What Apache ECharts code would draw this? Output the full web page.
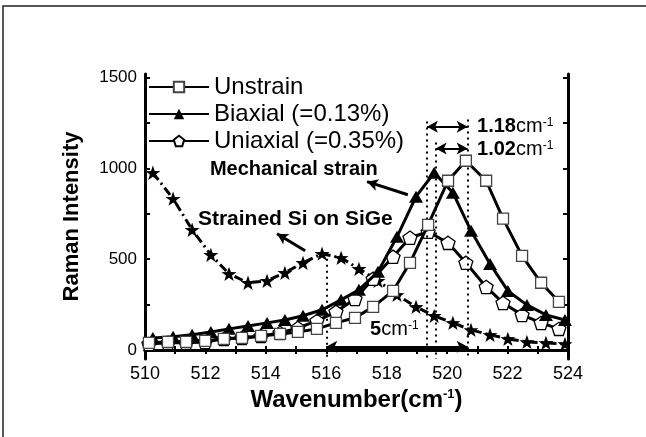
<!DOCTYPE html>
<html>
<head>
<meta charset="utf-8">
<script src="https://cdn.jsdelivr.net/npm/echarts@6/dist/echarts.min.js"></script>
<style>
  html, body { margin: 0; padding: 0; background: #fff; }
  #chart { width: 646px; height: 437px; }
</style>
</head>
<body>
<div id="chart"></div>
<script>
// Raman spectra of Si around the 520 cm^-1 optical phonon line
const wavenumberA = [510.13, 510.76, 511.36, 511.99, 512.61, 513.21, 513.84, 514.47, 515.06, 515.69, 516.32, 516.95,
                     517.55, 518.21, 518.77, 519.37, 520.03, 520.62, 521.29, 521.85, 522.48, 523.11, 523.70];
const wavenumberB = [510.26, 510.93, 511.56, 512.18, 512.78, 513.41, 514.04, 514.63, 515.23, 515.86, 516.49, 517.08,
                     517.71, 518.34, 518.97, 519.57, 520.19, 520.79, 521.42, 522.01, 522.64, 523.27, 523.90];

const unstrain = [39, 44, 44, 50, 61, 66, 77, 88, 99, 116, 149, 177, 237, 325, 480, 689, 932, 1042, 932, 723, 518, 370, 265];
const uniaxial = [33, 39, 39, 44, 61, 66, 77, 94, 121, 160, 210, 281, 392, 513, 618, 651, 590, 480, 347, 259, 193, 149, 116];
const biaxial  = [66, 72, 83, 99, 116, 132, 149, 165, 188, 221, 276, 331, 430, 623, 844, 976, 866, 656, 474, 325, 248, 193, 165];
const siOnSiGe = [976, 833, 662, 524, 419, 370, 381, 425, 480, 530, 507, 447, 381, 303, 237, 188, 149, 110, 83, 61, 44, 39, 33];

const seriesNames = ['Unstrain', 'Biaxial (=0.13%)', 'Uniaxial (=0.35%)'];

const xLabelTicks = [510, 512, 514, 516, 518, 520, 522, 524];
const xMinorTicks = [510, 511, 512, 513, 514, 515, 516, 517, 518, 519, 520, 521, 522, 523, 524];
const yLabelTicks = [0, 500, 1000, 1500];
const yMinorTicks = [0, 250, 500, 750, 1000, 1250, 1500];

// peak positions marked by the dotted guides
const peakUnstrain = 520.68;
const peakBiaxial = 519.62;
const peakUniaxial = 519.33;
const peakSiGe = 516.0;

const FONT = '"Liberation Sans", Arial, Helvetica, sans-serif';
const INK = '#000';

const STAR = 'path://M0,-10 L2.35,-3.24 L9.51,-3.09 L3.8,1.24 L5.88,8.09 L0,4 L-5.88,8.09 L-3.8,1.24 L-9.51,-3.09 L-2.35,-3.24 Z';
const PENTAGON = 'path://M0,-10 L9.51,-3.09 L5.88,8.09 L-5.88,8.09 L-9.51,-3.09 Z';

const zip = (xs, ys) => xs.map((x, i) => [x, ys[i]]);

const dotted = { type: [2, 4], width: 2, color: INK };
const arrowLine = { type: 'solid', width: 2, color: INK };

function vline(x, yTop) {
  return [{ coord: [x, yTop], symbol: 'none', lineStyle: dotted }, { coord: [x, -50], symbol: 'none' }];
}
function arrow(x1, y1, x2, y2, headStart, headEnd, width) {
  return [
    { coord: [x1, y1], symbol: headStart ? 'arrow' : 'none', lineStyle: Object.assign({}, arrowLine, { width: width || 2 }) },
    { coord: [x2, y2], symbol: headEnd ? 'arrow' : 'none' }
  ];
}

const guides = [
  vline(peakSiGe, 535),
  vline(peakUniaxial, 1258),
  vline(peakBiaxial, 1142),
  vline(peakUnstrain, 1269),
  arrow(peakSiGe, 17, peakUnstrain, 17, true, true, 3),
  arrow(peakUniaxial, 1230, peakUnstrain, 1230, true, true, 2),
  arrow(peakBiaxial, 1109, peakUnstrain, 1109, true, true, 2),
  arrow(517.35, 927, 518.70, 855, true, false, 3),
  arrow(514.37, 640, 515.30, 546, true, false, 3)
];

const axisLineStyle = { lineStyle: { color: INK, width: 3 } };
const plainNumber = v => String(v);

const option = {
  backgroundColor: '#fff',
  animation: false,
  textStyle: { fontFamily: FONT, color: INK },
  grid: { left: 145, right: 78, top: 74, bottom: 78, containLabel: false },
  legend: {
    data: seriesNames,
    orient: 'vertical',
    left: 148,
    top: 75,
    padding: 0,
    itemWidth: 60,
    itemHeight: 13,
    itemGap: 3,
    textStyle: { fontFamily: FONT, fontSize: 24, color: INK },
    selectedMode: false
  },
  xAxis: [
    {
      type: 'value', min: 510, max: 524, position: 'bottom',
      name: 'Wavenumber(cm{s|-1})',
      nameLocation: 'middle', nameGap: 25,
      nameTextStyle: {
        fontFamily: FONT, fontSize: 24, fontWeight: 'bold', color: INK, verticalAlign: 'top',
        rich: { s: { fontFamily: FONT, fontSize: 13, fontWeight: 'bold', verticalAlign: 'top', color: INK } }
      },
      axisLine: axisLineStyle,
      axisTick: { inside: true, length: 4, lineStyle: { width: 2, color: INK }, customValues: xMinorTicks },
      axisLabel: { customValues: xLabelTicks, formatter: plainNumber, fontFamily: FONT, fontSize: 18, color: INK, margin: 6 },
      splitLine: { show: false }
    },
    {
      type: 'value', min: 510, max: 524, position: 'top',
      axisLine: axisLineStyle,
      axisTick: { inside: true, length: 4, lineStyle: { width: 2, color: INK }, customValues: xMinorTicks },
      axisLabel: { show: false },
      splitLine: { show: false }
    }
  ],
  yAxis: [
    {
      type: 'value', min: -50, max: 1520, position: 'left',
      name: 'Raman Intensity',
      nameLocation: 'middle', nameGap: 62, nameRotate: 90,
      nameTextStyle: { fontFamily: FONT, fontSize: 22, fontWeight: 'bold', color: INK },
      axisLine: axisLineStyle,
      axisTick: { inside: true, length: 5, lineStyle: { width: 2, color: INK }, customValues: yMinorTicks },
      axisLabel: { customValues: yLabelTicks, formatter: plainNumber, fontFamily: FONT, fontSize: 17, color: INK, margin: 8 },
      splitLine: { show: false }
    },
    {
      type: 'value', min: -50, max: 1520, position: 'right',
      axisLine: axisLineStyle,
      axisTick: { inside: true, length: 5, lineStyle: { width: 2, color: INK }, customValues: yMinorTicks },
      axisLabel: { show: false },
      splitLine: { show: false }
    }
  ],
  series: [
    {
      name: 'Strained Si on SiGe', type: 'line', data: zip(wavenumberB, siOnSiGe),
      symbol: STAR, symbolSize: 15, symbolKeepAspect: true,
      itemStyle: { color: INK, borderWidth: 0 },
      lineStyle: { color: INK, width: 3, type: [9, 4, 2, 4] },
      z: 2,
      markLine: {
        silent: true, symbol: ['none', 'none'], symbolSize: [9, 11],
        label: { show: false }, animation: false,
        data: guides
      }
    },
    {
      name: seriesNames[2], type: 'line', data: zip(wavenumberA, uniaxial),
      symbol: PENTAGON, symbolSize: 14, symbolKeepAspect: true,
      itemStyle: { color: '#fff', borderColor: INK, borderWidth: 1.3 },
      lineStyle: { color: INK, width: 3 },
      z: 3
    },
    {
      name: seriesNames[1], type: 'line', data: zip(wavenumberB, biaxial),
      symbol: 'triangle', symbolSize: [14, 12],
      itemStyle: { color: INK, borderWidth: 0 },
      lineStyle: { color: INK, width: 3 },
      z: 4
    },
    {
      name: seriesNames[0], type: 'line', data: zip(wavenumberA, unstrain),
      symbol: 'rect', symbolSize: 11,
      itemStyle: { color: '#fff', borderColor: '#444', borderWidth: 1.3 },
      lineStyle: { color: INK, width: 3 },
      z: 5
    }
  ]
};

const chart = echarts.init(document.getElementById('chart'), null, { renderer: 'canvas' });
chart.setOption(option);

// text annotations anchored in data coordinates
const rich = {
  b: { fontFamily: FONT, fontSize: 20, fontWeight: 'bold', color: INK },
  bl: { fontFamily: FONT, fontSize: 21, fontWeight: 'bold', color: INK },
  n: { fontFamily: FONT, fontSize: 20, color: INK },
  s: { fontFamily: FONT, fontSize: 12, color: INK, verticalAlign: 'top' }
};
const notes = [
  { text: '{b|Mechanical strain}', at: [512.15, 993] },
  { text: '{bl|Strained Si on SiGe}', at: [511.75, 722] },
  { text: '{b|1.18}{n|cm}{s|-1}', at: [520.99, 1230] },
  { text: '{b|1.02}{n|cm}{s|-1}', at: [520.99, 1103] },
  { text: '{b|5}{n|cm}{s|-1}', at: [517.45, 110] }
];

const graphics = notes.map(n => {
  const p = chart.convertToPixel({ gridIndex: 0 }, n.at);
  return {
    type: 'text', x: p[0], y: p[1], z: 50,
    style: { text: n.text, rich: rich, verticalAlign: 'middle', align: 'left' }
  };
});

// outer frame of the figure
graphics.push({
  type: 'rect', z: 0, silent: true,
  shape: { x: 3, y: 6, width: 1000, height: 1000 },
  style: { fill: null, stroke: '#222', lineWidth: 1.5 }
});

chart.setOption({ graphic: graphics });
</script>
</body>
</html>
